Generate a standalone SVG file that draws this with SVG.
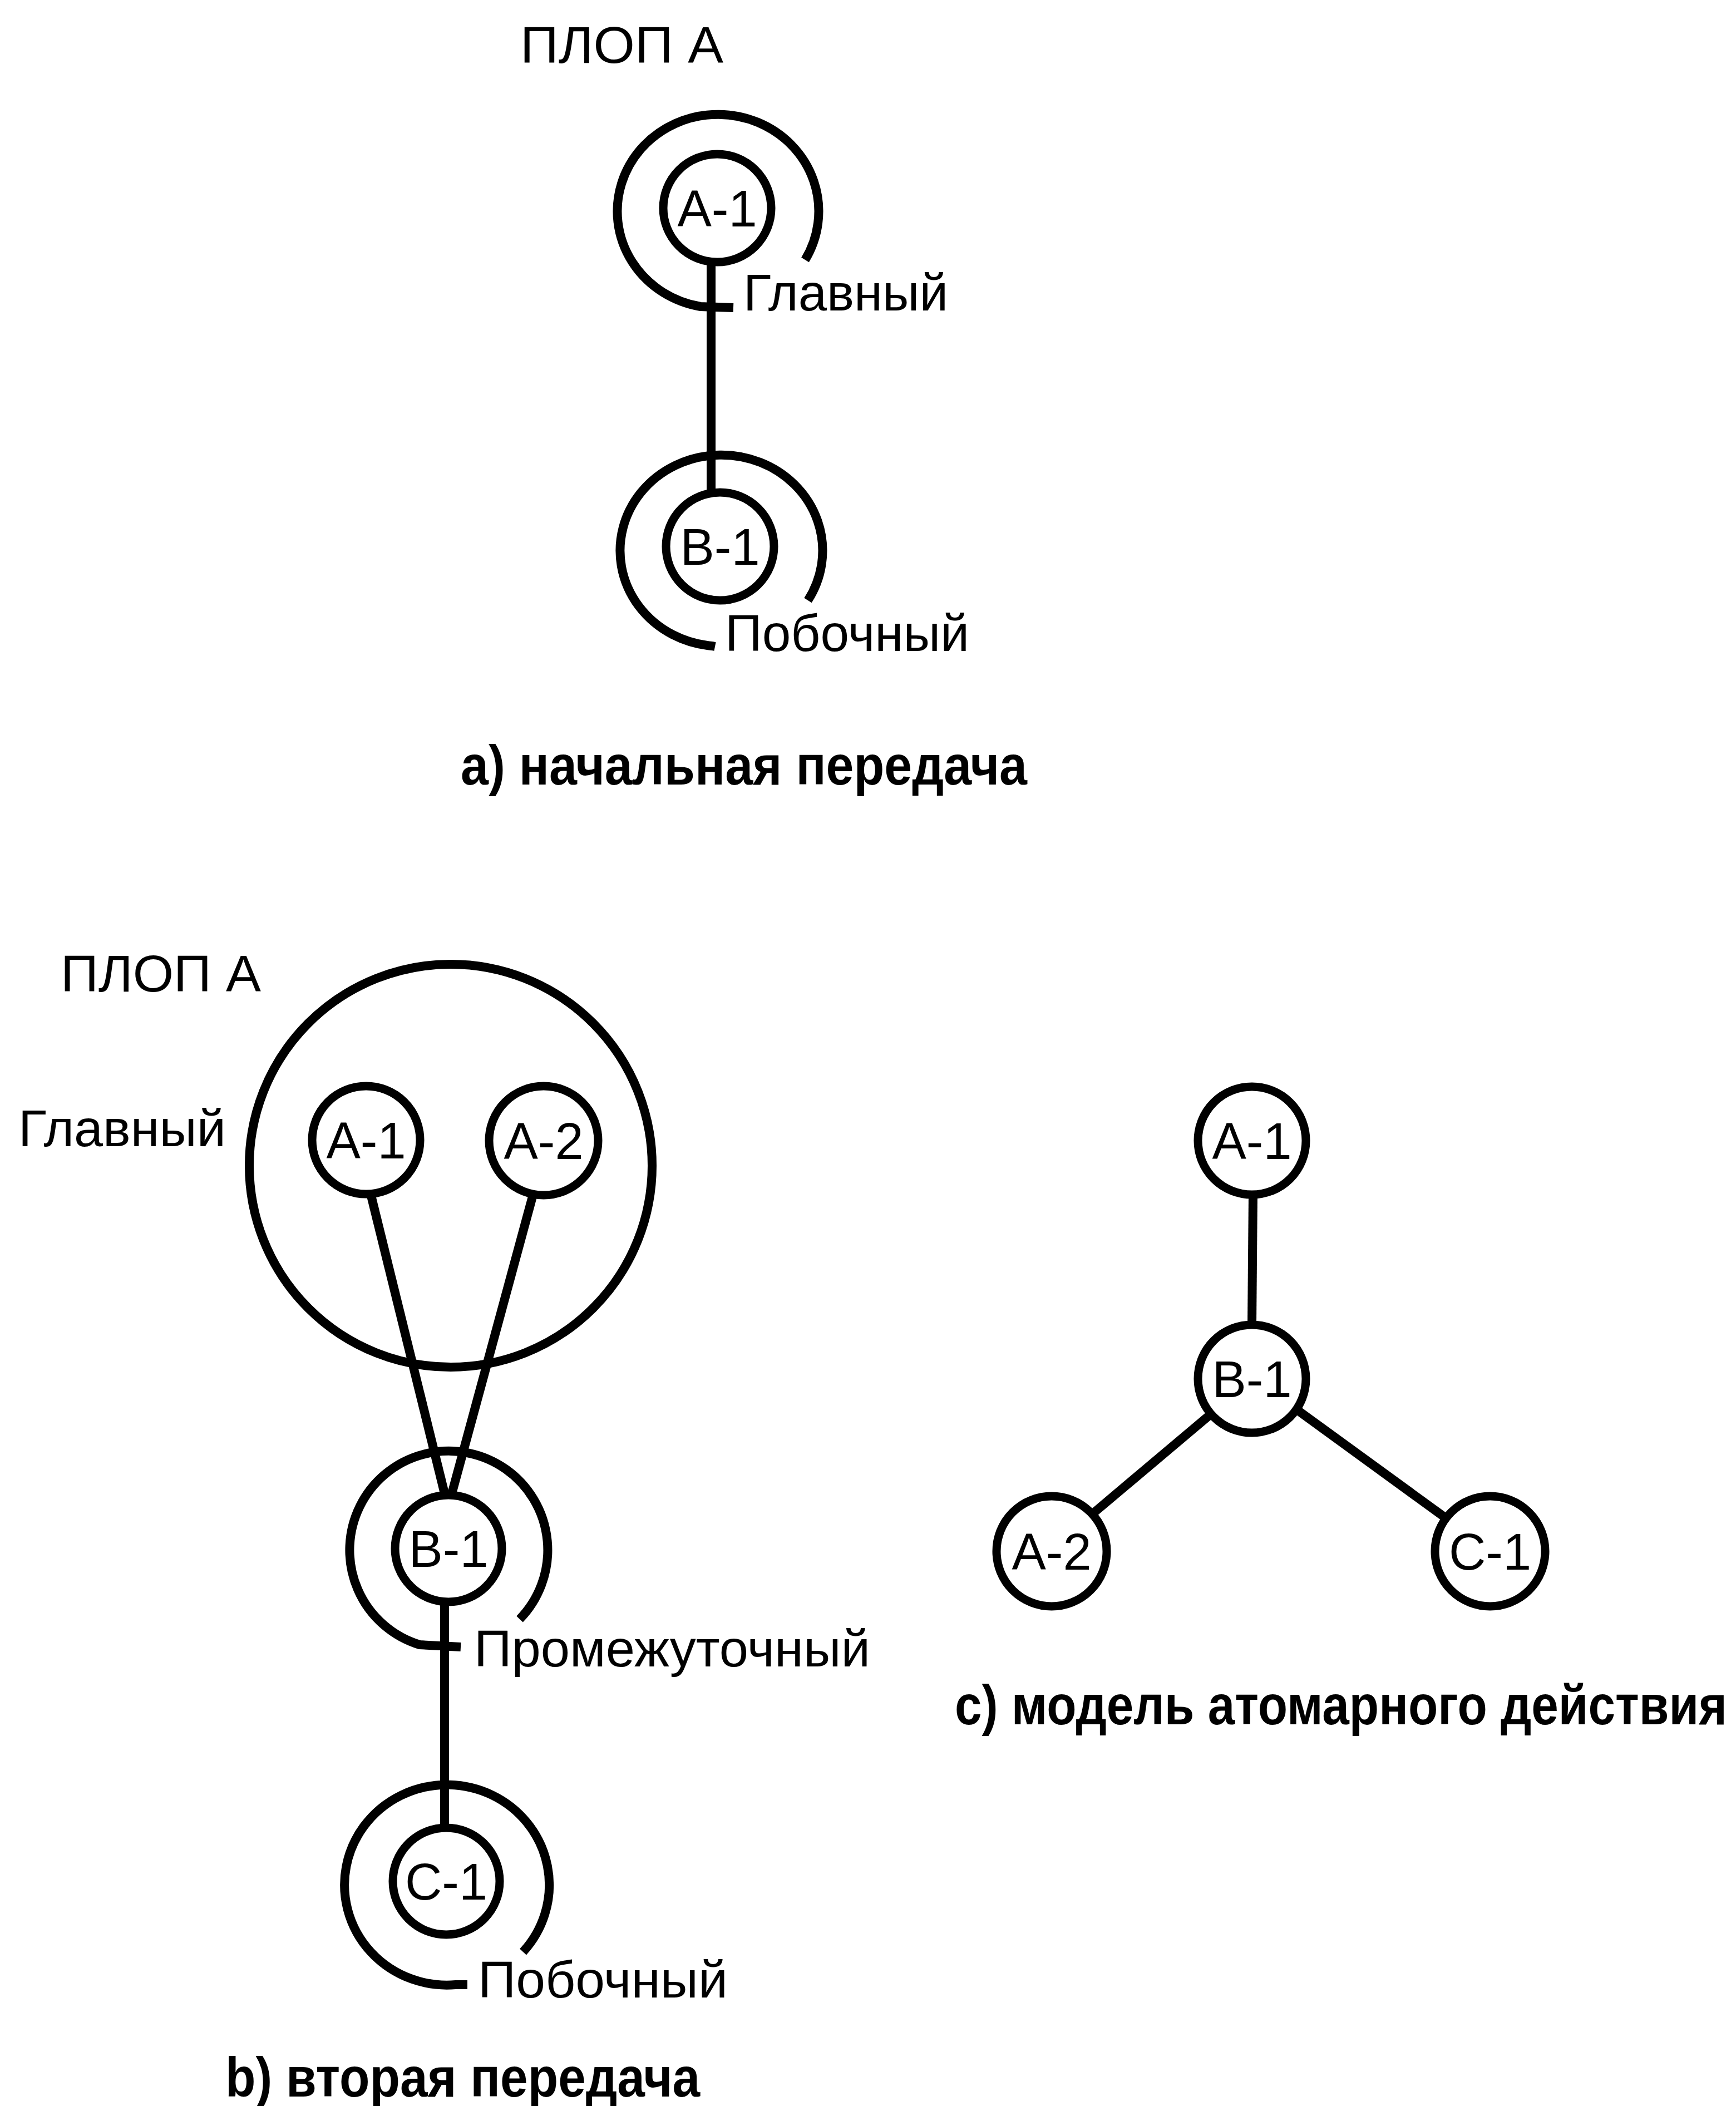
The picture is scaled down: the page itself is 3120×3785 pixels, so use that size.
<svg xmlns="http://www.w3.org/2000/svg" width="3120" height="3785" viewBox="0 0 3120 3785">
<style>
.bg{fill:#fff}
.n{fill:none;stroke:#000;stroke-width:15}
.ring{fill:none;stroke:#000;stroke-width:16}
.ln{fill:none;stroke:#000;stroke-width:16}
.lbl{font-family:"Liberation Sans",Arial,sans-serif;font-size:92px;fill:#000;text-anchor:middle}
.txt{font-family:"Liberation Sans",Arial,sans-serif;font-size:93px;fill:#000}
.cap{font-family:"Liberation Sans",Arial,sans-serif;font-size:100px;font-weight:bold;fill:#000}
</style>
<rect class="bg" x="0" y="0" width="3120" height="3785"/>

<!-- Panel a -->
<g id="panel-a">
  <text class="txt" x="935" y="113" textLength="365" lengthAdjust="spacingAndGlyphs">ПЛОП А</text>
  <g id="a-A1">
    <path class="ring" d="M1447,467 A181,174 0 1 0 1259,551 L1318,553"/>
    <circle class="n" cx="1289" cy="374" r="97"/>
    <text class="lbl" x="1289" y="407">A-1</text>
  </g>
  <g id="a-B1">
    <path class="ring" d="M1452,1079 A182,172 0 1 0 1280,1161 L1285,1162"/>
    <circle class="n" cx="1294" cy="982" r="97"/>
    <text class="lbl" x="1294" y="1015">B-1</text>
  </g>
  <text class="txt" x="1336" y="558" textLength="368" lengthAdjust="spacingAndGlyphs">Главный</text>
  <text class="txt" x="1303" y="1170" textLength="439" lengthAdjust="spacingAndGlyphs">Побочный</text>
  <text class="cap" x="828" y="1410" textLength="1018" lengthAdjust="spacingAndGlyphs">а) начальная передача</text>
</g>

<!-- Panel b -->
<g id="panel-b">
  <text class="txt" x="109" y="1782" textLength="360" lengthAdjust="spacingAndGlyphs">ПЛОП А</text>
  <text class="txt" x="33" y="2060" textLength="373" lengthAdjust="spacingAndGlyphs">Главный</text>
  <g id="b-main">
    <circle class="ring" cx="810" cy="2095" r="362"/>
  </g>
  <g id="b-A1">
    <circle class="n" cx="658" cy="2049" r="97"/>
    <text class="lbl" x="658" y="2082">A-1</text>
  </g>
  <g id="b-A2">
    <circle class="n" cx="977" cy="2050" r="98"/>
    <text class="lbl" x="977" y="2083">A-2</text>
  </g>
  <g id="b-B1">
    <path class="ring" d="M934,2910 A178,178 0 1 0 754,2956 L828,2960"/>
    <circle class="n" cx="806" cy="2783" r="96"/>
    <text class="lbl" x="806" y="2816">B-1</text>
  </g>
  <g id="b-C1">
    <path class="ring" d="M940,3508 A184,180 0 1 0 819,3567 L840,3567"/>
    <circle class="n" cx="802" cy="3381" r="96"/>
    <text class="lbl" x="802" y="3414">C-1</text>
  </g>
  <text class="txt" x="852" y="2995" textLength="712" lengthAdjust="spacingAndGlyphs">Промежуточный</text>
  <text class="txt" x="859" y="3590" textLength="449" lengthAdjust="spacingAndGlyphs">Побочный</text>
  <text class="cap" x="405" y="3768" textLength="853" lengthAdjust="spacingAndGlyphs">b) вторая передача</text>
</g>

<!-- Panel c -->
<g id="panel-c">
  <g id="c-A1">
    <circle class="n" cx="2250" cy="2050" r="97"/>
    <text class="lbl" x="2250" y="2083">A-1</text>
  </g>
  <g id="c-B1">
    <circle class="n" cx="2250" cy="2478" r="97"/>
    <text class="lbl" x="2250" y="2511">B-1</text>
  </g>
  <g id="c-A2">
    <circle class="n" cx="1890" cy="2788" r="99"/>
    <text class="lbl" x="1890" y="2821">A-2</text>
  </g>
  <g id="c-C1">
    <circle class="n" cx="2678" cy="2788" r="99"/>
    <text class="lbl" x="2678" y="2821">C-1</text>
  </g>
  <text class="cap" x="1716" y="3099" textLength="1388" lengthAdjust="spacingAndGlyphs">с) модель атомарного действия</text>
</g>

<!-- Connectors -->
<g id="connectors">
  <line class="ln" x1="1278" y1="470" x2="1278" y2="886"/>
  <line class="ln" x1="666" y1="2145" x2="800" y2="2688"/>
  <line class="ln" x1="958" y1="2147" x2="811" y2="2688"/>
  <line class="ln" x1="799" y1="2878" x2="799" y2="3286"/>
  <line class="ln" x1="2252" y1="2146" x2="2250" y2="2382"/>
  <line class="ln" x1="2178" y1="2540" x2="1962" y2="2722"/>
  <line class="ln" x1="2330" y1="2533" x2="2598" y2="2728"/>
</g>
</svg>
